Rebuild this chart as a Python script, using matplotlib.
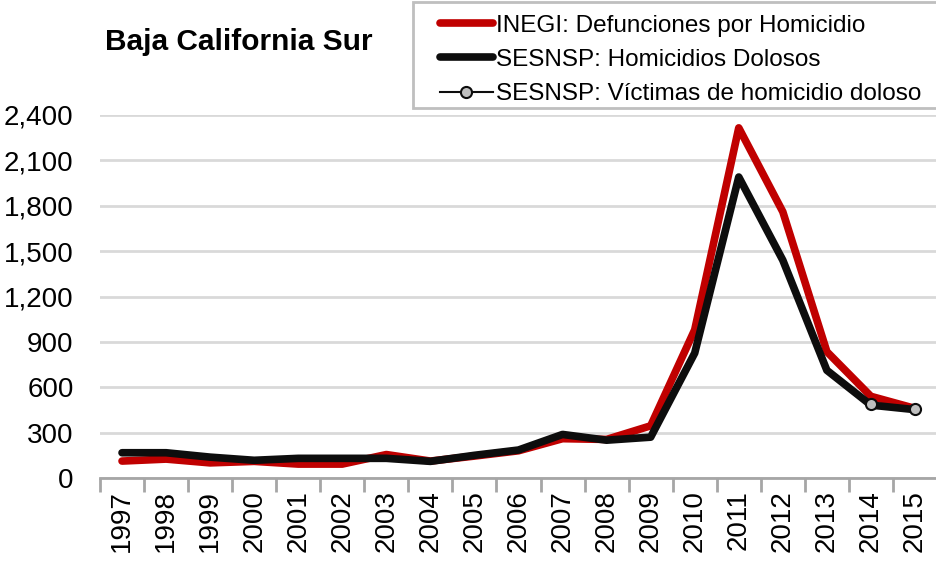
import numpy as np
import matplotlib.pyplot as plt
from matplotlib.patches import Rectangle
from matplotlib.ticker import FuncFormatter, FixedLocator

plt.rcParams['font.family'] = ['Liberation Sans', 'DejaVu Sans']

# data
years = [str(y) for y in range(1997, 2016)]
inegi = [112, 125, 100, 110, 92, 92, 155, 112, 145, 180, 260, 255, 345,
         980, 2315, 1760, 835, 540, 460]
sesnsp_hd = [167, 167, 138, 117, 130, 130, 130, 110, 150, 185, 288, 250, 270,
             826, 1990, 1440, 712, 482, 452]
vict_years = ['2014', '2015']
vict = [489, 456]

x = np.arange(len(years))
xv = [years.index(y) for y in vict_years]

fig = plt.figure(figsize=(9.37, 5.63), dpi=100)
ax = fig.add_axes([100/937, 85/563, 837/937, 363/563])

ax.plot(x, inegi, color='#c00000', lw=5.5, solid_joinstyle='round',
        solid_capstyle='round', zorder=3,
        label='INEGI: Defunciones por Homicidio')
ax.plot(x, sesnsp_hd, color='#0d0d0d', lw=5.5, solid_joinstyle='round',
        solid_capstyle='round', zorder=4,
        label='SESNSP: Homicidios Dolosos')
ax.plot(xv, vict, color='#0d0d0d', lw=1.5, marker='o', ms=8,
        mfc='#bfbfbf', mec='#0d0d0d', mew=1.5, zorder=5,
        label='SESNSP: Víctimas de homicidio doloso')

ax.set_xlim(-0.5, len(years) - 0.5)
ax.set_ylim(0, 2400)
ax.set_yticks(np.arange(0, 2401, 300))
ax.yaxis.set_major_formatter(FuncFormatter(lambda v, p: f'{int(v):,}'))
ax.grid(axis='y', color='#d9d9d9', lw=2)
ax.set_axisbelow(True)

ax.set_xticks(x)
ax.set_xticklabels(years, rotation=90)
ax.xaxis.set_minor_locator(FixedLocator(np.arange(-0.5, len(years), 1)))
ax.tick_params(axis='x', which='major', length=0, pad=9, labelsize=20)
ax.tick_params(axis='x', which='minor', length=10, width=2, color='#a6a6a6')
ax.tick_params(axis='y', length=0, pad=19, labelsize=20)

for s in ['top', 'right', 'left']:
    ax.spines[s].set_visible(False)
ax.spines['bottom'].set_color('#a6a6a6')
ax.spines['bottom'].set_linewidth(2)

fig.text(105/937, 1 - 42/563, 'Baja California Sur', fontsize=21.5,
         fontweight='bold', va='center', ha='left')

# legend box drawn separately (Excel-style frame)
fig.patches.append(Rectangle((413/937, 1 - 108/563), 530/937, 106/563,
                             transform=fig.transFigure, facecolor='white',
                             edgecolor='#bfbfbf', lw=2, zorder=1))
leg = fig.legend(loc='upper right', bbox_to_anchor=(0.992, 0.989),
                 fontsize=17.5, frameon=False,
                 handlelength=2.2, handletextpad=0.1, labelspacing=0.5,
                 borderpad=0.35, borderaxespad=0)
leg.set_zorder(5)

fig.savefig('out.png', dpi=100)
